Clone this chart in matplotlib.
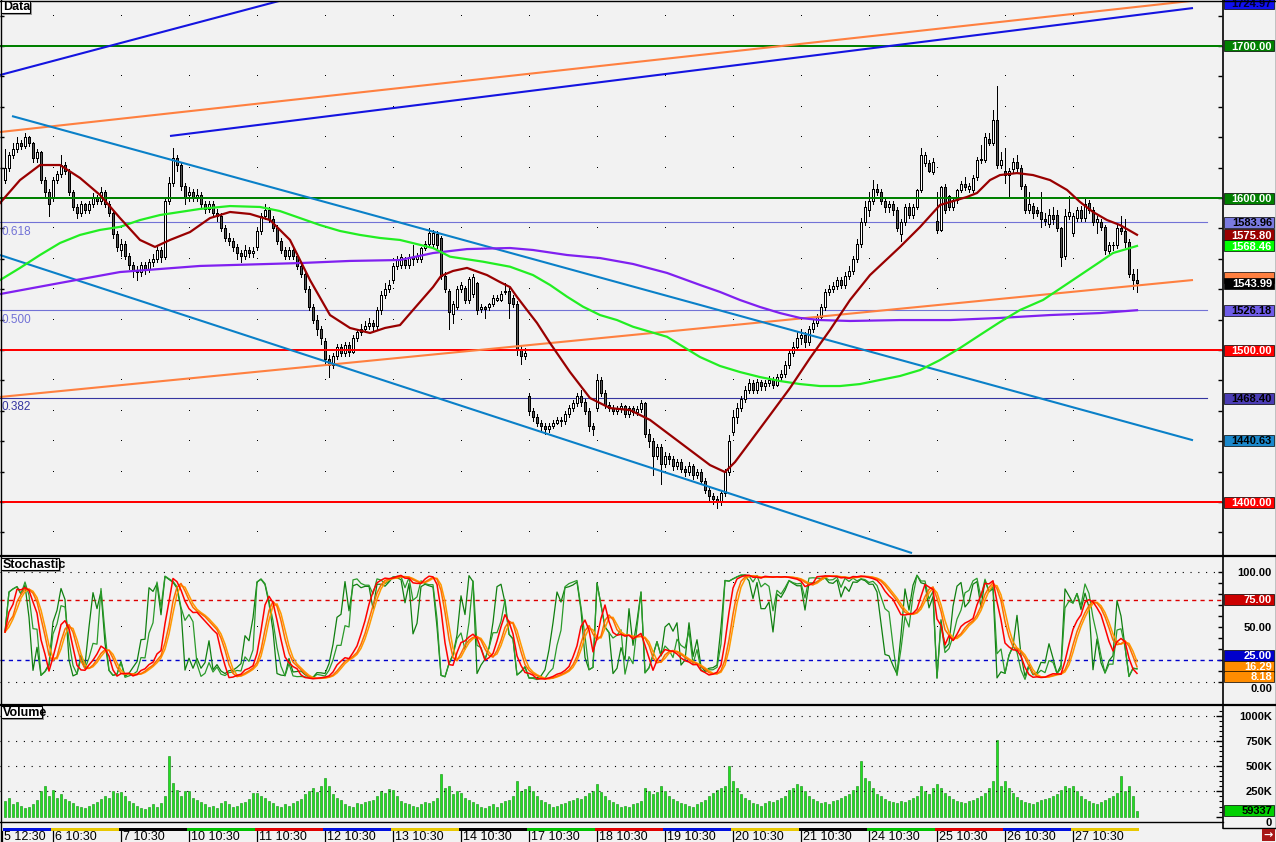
import numpy as np
import pandas as pd
import matplotlib
matplotlib.use("Agg")
import matplotlib.pyplot as plt
from matplotlib.patches import Rectangle
from matplotlib.lines import Line2D

plt.rcParams['font.family'] = ['Liberation Sans', 'DejaVu Sans']

W, H = 1276, 842
BG = '#f2f2f2'

# ---------------- data ----------------
day_labels = ['5 12:30', '6 10:30', '7 10:30', '10 10:30', '11 10:30', '12 10:30', '13 10:30',
              '14 10:30', '17 10:30', '18 10:30', '19 10:30', '20 10:30', '21 10:30',
              '24 10:30', '25 10:30', '26 10:30', '27 10:30']
day_first_bar = [0, 12, 29, 46, 63, 80, 97, 114, 131, 148, 165, 182, 199, 216, 233, 250, 267]

opens = [
    1612, 1620, 1628, 1632, 1636, 1634, 1640, 1636, 1626, 1630, 1612, 1604,
    1600, 1612, 1616, 1622, 1618, 1604, 1594, 1590, 1596, 1592, 1596, 1600, 1598, 1604, 1596, 1590, 1576,
    1566, 1570, 1562, 1556, 1552, 1551, 1556, 1553, 1558, 1560, 1566, 1561, 1598, 1610, 1626, 1622, 1608,
    1602, 1604, 1600, 1602, 1596, 1593, 1596, 1590, 1588, 1580, 1574, 1572, 1568, 1564, 1562, 1566, 1564,
    1568, 1578, 1588, 1592, 1586, 1580, 1572, 1566, 1562, 1566, 1562, 1555, 1550, 1540, 1528, 1520, 1514,
    1506, 1494, 1490, 1496, 1502, 1498, 1503, 1499, 1508, 1512, 1514, 1516, 1518, 1516, 1526, 1536, 1540,
    1546, 1555, 1556, 1559, 1556, 1561, 1560, 1560, 1567, 1570, 1570, 1576, 1574, 1549, 1539, 1524, 1528,
    1540, 1541, 1533, 1537, 1544, 1527, 1528, 1528, 1530, 1533, 1533, 1538, 1539, 1534, 1530, 1500, 1496,
    1470, 1460, 1456, 1452, 1450, 1448, 1450, 1452, 1454, 1453, 1458, 1462, 1465, 1470, 1466, 1460, 1450,
    1462, 1480, 1472, 1464, 1462, 1460, 1461, 1463, 1458, 1462, 1459, 1461, 1465, 1445, 1440, 1430, 1436,
    1425, 1430, 1428, 1424, 1426, 1422, 1420, 1424, 1418, 1420, 1414, 1408, 1404, 1402, 1400, 1406, 1420,
    1446, 1456, 1462, 1468, 1474, 1478, 1474, 1479, 1476, 1478, 1480, 1477, 1482, 1484, 1490, 1498, 1502,
    1508, 1510, 1505, 1514, 1518, 1522, 1528, 1538, 1540, 1542, 1546, 1543, 1549, 1552, 1560, 1570, 1584,
    1592, 1598, 1606, 1604, 1598, 1594, 1596, 1592, 1576, 1584, 1594, 1589, 1594, 1605, 1623, 1623, 1617,
    1585, 1579, 1607, 1601, 1594, 1599, 1605, 1609, 1606, 1605, 1614, 1625, 1625, 1639, 1636, 1651, 1622,
    1618, 1615, 1619, 1624, 1620, 1608, 1592, 1595, 1592, 1591, 1586, 1583, 1589, 1589, 1580, 1562, 1588,
    1577, 1587, 1592, 1587, 1597, 1592, 1584, 1584, 1581, 1565, 1569, 1569, 1580, 1578, 1571, 1550, 1546,
]
highs = [
    1632, 1630, 1636, 1640, 1638, 1643, 1641, 1637, 1632, 1631, 1614, 1606,
    1614, 1618, 1628, 1624, 1619, 1605, 1596, 1598, 1597, 1598, 1603, 1602, 1607, 1605, 1598, 1591, 1578,
    1573, 1572, 1564, 1558, 1555, 1558, 1558, 1560, 1563, 1568, 1568, 1600, 1614, 1633, 1628, 1624, 1610,
    1607, 1606, 1606, 1604, 1598, 1598, 1598, 1593, 1590, 1582, 1577, 1574, 1570, 1566, 1569, 1568, 1568,
    1580, 1590, 1596, 1594, 1588, 1582, 1574, 1568, 1568, 1568, 1564, 1557, 1552, 1542, 1530, 1523, 1516,
    1508, 1497, 1498, 1504, 1504, 1505, 1505, 1510, 1514, 1517, 1519, 1521, 1520, 1528, 1539, 1544, 1546,
    1557, 1562, 1563, 1561, 1563, 1569, 1564, 1568, 1572, 1580, 1579, 1578, 1575, 1551, 1540, 1532, 1542,
    1545, 1542, 1548, 1550, 1545, 1530, 1529, 1531, 1536, 1536, 1539, 1544, 1541, 1536, 1532, 1503, 1501,
    1472, 1462, 1458, 1454, 1452, 1452, 1454, 1456, 1456, 1460, 1464, 1467, 1472, 1474, 1468, 1462, 1452,
    1484, 1482, 1474, 1466, 1464, 1463, 1465, 1464, 1463, 1463, 1463, 1467, 1466, 1448, 1442, 1438, 1438,
    1433, 1432, 1430, 1428, 1428, 1424, 1426, 1425, 1422, 1422, 1416, 1410, 1406, 1404, 1408, 1422, 1444,
    1460, 1465, 1470, 1476, 1481, 1480, 1481, 1480, 1480, 1483, 1482, 1484, 1487, 1493, 1500, 1505, 1512,
    1514, 1512, 1516, 1520, 1524, 1530, 1540, 1543, 1545, 1548, 1548, 1551, 1555, 1562, 1573, 1587, 1598,
    1604, 1612, 1609, 1606, 1600, 1598, 1598, 1594, 1586, 1596, 1597, 1596, 1606, 1633, 1630, 1625, 1626,
    1604, 1608, 1609, 1602, 1600, 1606, 1611, 1614, 1610, 1615, 1627, 1635, 1643, 1643, 1658, 1674, 1630,
    1633, 1620, 1626, 1628, 1622, 1609, 1604, 1597, 1594, 1604, 1590, 1593, 1594, 1592, 1581, 1593, 1601,
    1590, 1594, 1595, 1600, 1599, 1594, 1588, 1586, 1582, 1571, 1571, 1582, 1588, 1586, 1573, 1553, 1553,
]
lows = [
    1610, 1618, 1626, 1630, 1632, 1633, 1634, 1624, 1624, 1610, 1600, 1588,
    1598, 1610, 1614, 1616, 1602, 1592, 1587, 1588, 1590, 1590, 1594, 1596, 1596, 1594, 1588, 1574, 1565,
    1562, 1560, 1553, 1548, 1546, 1549, 1550, 1551, 1555, 1558, 1558, 1560, 1596, 1608, 1618, 1605, 1596,
    1598, 1598, 1598, 1594, 1590, 1591, 1588, 1585, 1578, 1572, 1569, 1565, 1560, 1558, 1560, 1561, 1561,
    1566, 1576, 1586, 1584, 1578, 1570, 1564, 1560, 1560, 1560, 1553, 1548, 1538, 1526, 1518, 1510, 1504,
    1490, 1482, 1488, 1494, 1496, 1496, 1496, 1498, 1506, 1510, 1512, 1514, 1513, 1514, 1524, 1534, 1538,
    1544, 1553, 1554, 1554, 1554, 1556, 1558, 1558, 1566, 1568, 1568, 1567, 1547, 1538, 1514, 1518, 1527,
    1538, 1531, 1531, 1535, 1524, 1525, 1521, 1526, 1529, 1532, 1532, 1537, 1521, 1528, 1497, 1491, 1494,
    1457, 1453, 1450, 1447, 1445, 1446, 1449, 1451, 1450, 1451, 1456, 1460, 1463, 1463, 1458, 1447, 1444,
    1460, 1470, 1462, 1460, 1458, 1458, 1459, 1456, 1456, 1457, 1457, 1459, 1443, 1436, 1418, 1428, 1412,
    1423, 1425, 1421, 1422, 1420, 1417, 1418, 1415, 1416, 1412, 1406, 1401, 1399, 1396, 1398, 1404, 1418,
    1444, 1452, 1460, 1466, 1472, 1472, 1472, 1474, 1474, 1476, 1475, 1476, 1480, 1482, 1488, 1496, 1500,
    1504, 1502, 1503, 1512, 1516, 1520, 1526, 1536, 1538, 1540, 1541, 1541, 1547, 1550, 1558, 1568, 1582,
    1588, 1596, 1602, 1596, 1591, 1591, 1589, 1578, 1572, 1582, 1587, 1587, 1593, 1604, 1621, 1617, 1616,
    1577, 1578, 1590, 1592, 1592, 1597, 1604, 1605, 1604, 1604, 1612, 1623, 1624, 1635, 1635, 1620, 1620,
    1610, 1600, 1617, 1618, 1606, 1590, 1590, 1587, 1588, 1581, 1582, 1581, 1583, 1578, 1555, 1560, 1586,
    1575, 1585, 1585, 1585, 1590, 1582, 1577, 1579, 1563, 1563, 1566, 1567, 1576, 1568, 1548, 1540, 1538,
]
closes = [
    1620, 1628, 1632, 1636, 1634, 1640, 1636, 1626, 1630, 1612, 1604, 1596,
    1612, 1616, 1622, 1618, 1604, 1594, 1590, 1596, 1592, 1596, 1600, 1598, 1604, 1596, 1590, 1576, 1568,
    1570, 1562, 1556, 1552, 1551, 1556, 1553, 1558, 1560, 1566, 1561, 1598, 1610, 1626, 1622, 1608, 1600,
    1604, 1600, 1602, 1596, 1593, 1596, 1590, 1588, 1580, 1574, 1572, 1568, 1564, 1562, 1566, 1564, 1565,
    1578, 1588, 1592, 1586, 1580, 1572, 1566, 1562, 1566, 1562, 1555, 1550, 1540, 1528, 1520, 1514, 1508,
    1494, 1490, 1496, 1502, 1498, 1503, 1499, 1508, 1512, 1514, 1516, 1518, 1516, 1526, 1536, 1540, 1543,
    1555, 1560, 1561, 1556, 1561, 1560, 1562, 1567, 1570, 1577, 1577, 1569, 1549, 1540, 1525, 1530, 1540,
    1543, 1533, 1547, 1548, 1526, 1528, 1527, 1530, 1534, 1534, 1537, 1539, 1531, 1530, 1500, 1496, 1498,
    1460, 1456, 1452, 1450, 1448, 1450, 1452, 1454, 1453, 1458, 1462, 1465, 1470, 1466, 1460, 1450, 1448,
    1480, 1472, 1464, 1462, 1460, 1461, 1463, 1458, 1462, 1459, 1461, 1465, 1445, 1440, 1430, 1436, 1425,
    1430, 1428, 1424, 1426, 1422, 1420, 1424, 1418, 1420, 1414, 1408, 1404, 1402, 1400, 1406, 1420, 1440,
    1456, 1462, 1468, 1474, 1478, 1474, 1479, 1476, 1478, 1480, 1477, 1482, 1484, 1490, 1498, 1502, 1508,
    1510, 1505, 1514, 1518, 1522, 1528, 1538, 1540, 1542, 1546, 1543, 1549, 1552, 1560, 1570, 1584, 1594,
    1598, 1606, 1604, 1598, 1594, 1596, 1592, 1580, 1584, 1594, 1589, 1594, 1605, 1628, 1628, 1618, 1624,
    1579, 1607, 1592, 1594, 1599, 1605, 1609, 1607, 1608, 1613, 1625, 1625, 1640, 1636, 1651, 1622, 1625,
    1615, 1618, 1624, 1620, 1608, 1592, 1596, 1590, 1590, 1586, 1585, 1589, 1586, 1580, 1561, 1588, 1591,
    1588, 1592, 1587, 1596, 1592, 1584, 1586, 1581, 1566, 1569, 1569, 1580, 1578, 1571, 1550, 1546, 1543.99,
]
# volume in thousands
volumes_k = [
    150, 180, 120, 140, 110, 90, 100, 120, 160, 250, 300, 200,
    260, 180, 220, 170, 150, 130, 110, 100, 90, 110, 120, 140, 170, 200, 180, 250, 230,
    240, 200, 150, 130, 110, 90, 80, 100, 120, 100, 130, 200, 600, 330, 260, 200, 250,
    250, 180, 160, 140, 120, 100, 110, 90, 130, 150, 120, 100, 110, 130, 140, 170, 230,
    230, 200, 180, 150, 130, 110, 100, 120, 110, 130, 150, 170, 220, 250, 280, 240, 300,
    380, 300, 220, 180, 160, 120, 110, 100, 130, 120, 140, 150, 160, 200, 250, 230, 270,
    260, 200, 150, 130, 120, 110, 100, 120, 140, 130, 150, 180, 420, 280, 300, 220, 250,
    230, 180, 160, 140, 120, 100, 90, 110, 120, 100, 130, 150, 160, 200, 350, 250, 270,
    300, 250, 200, 160, 140, 120, 100, 110, 120, 130, 150, 160, 180, 170, 200, 230, 250,
    320, 240, 200, 160, 140, 120, 100, 110, 100, 120, 130, 150, 280, 250, 220, 240, 300,
    250, 200, 170, 150, 130, 120, 110, 100, 120, 140, 160, 200, 230, 260, 280, 300, 500,
    350, 280, 220, 180, 160, 130, 120, 110, 130, 150, 140, 160, 180, 200, 260, 280, 320,
    300, 250, 200, 170, 150, 130, 140, 120, 150, 160, 180, 200, 220, 260, 300, 550, 380,
    350, 280, 220, 200, 170, 150, 140, 130, 150, 140, 160, 180, 200, 300, 250, 220, 280,
    320, 280, 230, 200, 170, 150, 140, 130, 150, 160, 180, 200, 230, 280, 350, 760, 300,
    350, 280, 230, 190, 160, 140, 130, 120, 140, 160, 170, 180, 200, 220, 260, 300, 280,
    300, 250, 200, 170, 150, 130, 120, 140, 160, 180, 200, 230, 400, 250, 300, 200, 59.337,
]

# moving averages (bar position, price)
ma_red_bar = [-1.25, 3.75, 8.75, 13.75, 18.75, 23.75, 28.75, 33.75, 37.5, 41.25, 46.25, 51.25, 56.25,
              61.25, 66.25, 71.25, 76.25, 81.25, 86.25, 91.25, 95, 98.75, 102, 107, 109, 112, 115.5,
              120.5, 123.75, 126.25, 128, 130.5, 133, 136.25, 141.25, 146.25, 151.25, 156.25, 161.25,
              166.25, 171.25, 176.25, 180, 182.5, 186.25, 191.25, 196.25, 201.25, 206.25, 211.25,
              216.25, 223.75, 228.75, 233.75, 240.5, 243, 246.25, 248.75, 253, 257, 261.25, 265.5,
              268.75, 272, 275.5, 278.75, 283]
ma_red_val = [1596.7, 1611.8, 1621.7, 1621.7, 1613.2, 1602.0, 1586.8, 1572.4, 1567.8, 1572.4, 1577.6,
              1586.8, 1590.8, 1589.5, 1585.5, 1572.4, 1546.0, 1523.0, 1514.5, 1511.2, 1514.5, 1516.4,
              1526.3, 1541.4, 1548.7, 1552.0, 1554.0, 1549.3, 1544.7, 1541.4, 1534.9, 1526.3, 1517.8,
              1504.6, 1485.5, 1468.4, 1461.8, 1460.5, 1454.0, 1444.1, 1434.2, 1424.3, 1419.7, 1426.3,
              1439.5, 1457.2, 1475.0, 1494.7, 1513.2, 1532.9, 1549.3, 1567.8, 1580.9, 1595.4, 1600.7,
              1603.3, 1611.8, 1615.1, 1616.4, 1615.1, 1611.8, 1605.3, 1597.4, 1590.8, 1585.5, 1582.2,
              1575.8]
ma_green_bar = [-1.25, 3.75, 8.75, 13.75, 18.75, 23.75, 28.75, 33.75, 38.75, 43.75, 48.75, 56.25,
                63.75, 68.75, 73.75, 78.75, 83.75, 88.75, 93.75, 98.75, 107, 111.25, 119.5, 126.25,
                132, 136.25, 140.5, 144.5, 148.75, 153, 157, 161.25, 165.5, 169.5, 173.75, 178.75,
                183.75, 188.75, 193.75, 198.75, 203.75, 208.75, 213.75, 218.75, 223.75, 228.75,
                233.75, 238.75, 243.75, 248.75, 253.75, 259.5, 267, 273.75, 277, 283]
ma_green_val = [1546.0, 1554.0, 1562.5, 1570.4, 1575.7, 1579.0, 1581.0, 1585.5, 1588.8, 1590.8, 1592.8,
                1594.7, 1594.1, 1591.4, 1586.8, 1582.2, 1578.3, 1575.7, 1573.7, 1572.4, 1567.1, 1561.4,
                1558.1, 1554.8, 1549.3, 1542.8, 1535.1, 1528.5, 1523.0, 1519.7, 1515.3, 1512.0, 1508.7,
                1502.2, 1495.4, 1489.5, 1485.5, 1482.2, 1479.6, 1477.6, 1476.3, 1476.3, 1477.6, 1480.3,
                1482.9, 1486.8, 1493.4, 1501.3, 1509.9, 1518.4, 1526.3, 1532.9, 1546.1, 1558.0, 1563.8,
                1568.46]
ma_purple_bar = [-1.25, 13.75, 28.75, 48.75, 73.75, 86.25, 98.75, 107, 115.5, 126.25, 132, 140.5,
                 148.75, 157, 165.5, 173.75, 178.75, 183.75, 188.75, 193.75, 198.75, 203.75, 211.25,
                 223.75, 236.25, 248.75, 261.25, 273.75, 283]
ma_purple_val = [1536.8, 1544.1, 1551.3, 1555.3, 1557.2, 1558.6, 1559.2, 1563.8, 1566.4, 1567.1, 1565.8,
                 1562.5, 1560.5, 1556.6, 1550.7, 1542.8, 1538.2, 1532.9, 1528.3, 1524.3, 1521.1, 1519.7,
                 1519.1, 1519.7, 1519.7, 1521.1, 1523.0, 1524.3, 1526.18]

# drawn trend lines (start bar, start price, end bar, end price)
trend_start_bar = [-1.25, 41.25, -1.25, -1.25, 1.75, -1.25]
trend_start_price = [1680.9, 1640.8, 1643.4, 1469.1, 1653.9, 1562.5]
trend_end_bar = [69.5, 297, 298.75, 297, 297, 226.75]
trend_end_price = [1730.3, 1724.97, 1730.3, 1546.05, 1440.63, 1366.4]

level_green = [1700, 1600]
level_red = [1500, 1400]
fib_labels = ['0.618', '0.500', '0.382']
fib_prices = [1583.96, 1526.18, 1468.40]

stoch_upper, stoch_lower = 75, 20
stoch_tag_texts = ['25.00', '16.29', '8.18']
last_volume_text = '59337'

# ---------------- figure ----------------
fig = plt.figure(figsize=(W / 100, H / 100), dpi=100)
fig.patch.set_facecolor(BG)


def px_axes(top, bottom, left=0, right=1222):
    a = fig.add_axes([left / W, 1 - bottom / H, (right - left) / W, (bottom - top) / H])
    a.set_facecolor(BG)
    for s in a.spines.values():
        s.set_visible(False)
    a.set_xlim(-1.25, 304.25)
    a.set_xticks([])
    return a


ax = px_axes(1, 554)
ax.set_ylim(1365.8, 1729.6)
ax_st = px_axes(557, 703)
ax_st.set_ylim(-19.09, 113.64)
ax_v = px_axes(706, 821)
ax_v.set_ylim(-44.5, 1101.8)
ax_x = px_axes(822, 842)
ax_x.set_ylim(20, 0)
ax_x.set_yticks([])

n = len(closes)
idx = np.arange(n)
o = np.array(opens, float)
h = np.array(highs, float)
l = np.array(lows, float)
c = np.array(closes, float)

# ---- price panel ----
boundary_bars = day_first_bar[1:]
for p in np.arange(1380, 1730, 20):
    ax.plot(boundary_bars, [p] * len(boundary_bars), ls='none', marker=',', color='black', zorder=1)

for lab, p in zip(fib_labels, fib_prices):
    col = '#3535a0' if lab == '0.382' else '#7272d6'
    ax.plot([-1.25, 300.5], [p, p], color=col, lw=0.8, zorder=2)
    ax.text(-0.8, p - 2.2, lab, color=col, fontsize=8.5, ha='left', va='top', zorder=2)

ax.vlines(idx, l, h, color='black', lw=0.6, zorder=3, antialiased=False)
up = c >= o
body_lo = np.minimum(o, c)
body_h = np.maximum(np.abs(c - o), 0.4)
ax.bar(idx[up], body_h[up], bottom=body_lo[up], width=0.72, color='white', edgecolor='black',
       lw=0.5, zorder=4, antialiased=False)
ax.bar(idx[~up], body_h[~up], bottom=body_lo[~up], width=0.72, color='#555555', edgecolor='black',
       lw=0.5, zorder=4, antialiased=False)

for p in level_green:
    ax.axhline(p, color='#008000', lw=1.44, zorder=5, antialiased=False)
for p in level_red:
    ax.axhline(p, color='#ff0000', lw=1.44, zorder=5, antialiased=False)

trend_colors = ['#1414e0', '#1414e0', '#ff8040', '#ff8040', '#0a80c8', '#0a80c8']
for x0, p0, x1, p1, col in zip(trend_start_bar, trend_start_price, trend_end_bar, trend_end_price, trend_colors):
    ax.plot([x0, x1], [p0, p1], color=col, lw=1.5, zorder=5, solid_capstyle='butt')

ax.plot(ma_purple_bar, ma_purple_val, color='#8020f0', lw=1.6, zorder=6)
ax.plot(ma_green_bar, ma_green_val, color='#22ee22', lw=1.6, zorder=6)
ax.plot(ma_red_bar, ma_red_val, color='#990000', lw=1.6, zorder=6)

ax.set_yticks(np.arange(1380, 1730, 20))
ax.tick_params(axis='y', which='both', direction='in', right=True, left=True, labelleft=False,
               labelright=False, length=3, width=1, color='black')

# ---- stochastic panel ----
hi_s, lo_s, cl_s = pd.Series(h), pd.Series(l), pd.Series(c)


def pct_k(period):
    hh = hi_s.rolling(period, min_periods=1).max()
    ll = lo_s.rolling(period, min_periods=1).min()
    return 100 * (cl_s - ll) / (hh - ll)


k_fast = pct_k(5)
k_mid = pct_k(8)
d_red = pct_k(14).rolling(3, min_periods=1).mean()
d_orange = d_red.rolling(3, min_periods=1).mean()
d_orange2 = d_orange.rolling(2, min_periods=1).mean()

ax_st.axhline(100, color='black', lw=0.8, ls=(0, (1, 6)))
ax_st.axhline(0, color='black', lw=0.8, ls=(0, (1, 6)))
for v in (90, 50, 10):
    ax_st.plot(boundary_bars, [v] * len(boundary_bars), ls='none', marker=',', color='black')
ax_st.axhline(stoch_upper, color='#dd0000', lw=1.0, ls=(0, (3, 3)))
ax_st.axhline(stoch_lower, color='#0000cc', lw=1.0, ls=(0, (3, 3)))
ax_st.plot(idx, k_fast, color='#0f7f0f', lw=0.9)
ax_st.plot(idx, k_mid, color='#2a9a2a', lw=0.9)
ax_st.plot(idx, d_orange2, color='#ff9a00', lw=1.1)
ax_st.plot(idx, d_orange, color='#ff6a00', lw=1.1)
ax_st.plot(idx, d_red, color='#ff0000', lw=1.1)
ax_st.set_yticks(np.arange(0, 101, 10))
ax_st.tick_params(axis='y', direction='in', right=True, left=False, labelleft=False, labelright=False,
                  length=3, width=1, color='black')

# ---- volume panel ----
vol = np.array(volumes_k, float)
for v in (250, 500, 750, 1000):
    ax_v.axhline(v, color='black', lw=0.8, ls=(0, (1, 6)))
ax_v.bar(idx, vol, width=0.72, color='#20e020', edgecolor='#0c8a0c', lw=0.4)
ax_v.set_yticks(np.arange(0, 1001, 250))
ax_v.set_yticks(np.arange(0, 1051, 50), minor=True)
ax_v.tick_params(axis='y', which='major', direction='in', right=True, left=False, labelleft=False,
                 labelright=False, length=4, width=1, color='black')
ax_v.tick_params(axis='y', which='minor', direction='in', right=True, left=False, length=2, width=0.8)

# ---- time axis ----
strip_colors = ['#0010e0', '#e8c800', '#000000', '#00c000', '#e00000']
strip_start = [0, 1, 2, 3, 4, 0, 1, 2, 3, 4, 0, 1, 2, 3, 4, 0, 1]
bounds = day_first_bar + [n]
for k in range(len(day_first_bar)):
    col = strip_colors[strip_start[k]]
    ax_x.add_patch(Rectangle((bounds[k] - 0.5, 5.5), bounds[k + 1] - bounds[k], 3.2, color=col, lw=0))
for k, (lab, b) in enumerate(zip(day_labels, day_first_bar)):
    xb = b if k > 0 else -0.75
    ax_x.plot([xb, xb], [9, 20], color='black', lw=0.9)
    ax_x.text(xb + 0.45, 15.2, lab, fontsize=9, ha='left', va='center')

# ---------------- frame, separators, tags ----------------


def px_line(x0, y0, x1, y1, lw=1.0, color='black'):
    fig.add_artist(Line2D([x0 / W, x1 / W], [1 - y0 / H, 1 - y1 / H], transform=fig.transFigure,
                          color=color, lw=lw, zorder=20))


def px_rect(x, y, w, hh, z=10, **kw):
    fig.add_artist(Rectangle((x / W, 1 - (y + hh) / H), w / W, hh / H, transform=fig.transFigure,
                             zorder=z, **kw))


px_line(0, 555.5, W, 555.5, lw=1.6)
px_line(0, 704.5, W, 704.5, lw=1.6)
px_line(0, 821.5, 1223, 821.5, lw=1.0)
px_line(1223, 827.5, W, 827.5, lw=1.0)
px_line(1222.5, 0, 1222.5, 828, lw=1.2)
px_line(0.5, 0, 0.5, 842, lw=1.0)
px_line(0, 0.5, W, 0.5, lw=1.0)
px_line(W - 0.5, 0, W - 0.5, 828, lw=1.0)


def y_px(a, v):
    return H - a.transData.transform((0, v))[1]


def tag(yp, text, face=None, color='black', z=10):
    if face is not None:
        px_rect(1224, yp - 5.5, 50, 11, z=z, facecolor=face, edgecolor='black', lw=0.5)
    if text:
        fig.text(1272 / W, 1 - (yp + 0.8) / H, text, ha='right', va='center', fontsize=8,
                 fontweight='bold', color=color, zorder=z + 1)


tag(-4.5, '', '#ff8040')   # orange upper trend line tag, mostly above the window
tag(3, '1724.97', '#1010f0', '#000030')
tag(y_px(ax, 1700), '1700.00', '#008000', 'white')
tag(y_px(ax, 1600), '1600.00', '#008000', 'white')
tag(y_px(ax, fib_prices[0]), '1583.96', '#7a7ae0', 'black')
tag(y_px(ax, ma_red_val[-1]), '1575.80', '#990000', 'white')
tag(y_px(ax, ma_green_val[-1]), '1568.46', '#00ff00', 'white')
tag(277.5, '', '#ff8040')   # orange lower trend line tag, hidden behind the last-price tag
tag(y_px(ax, closes[-1]), '1543.99', '#000000', 'white', z=12)
tag(y_px(ax, fib_prices[1]), '1526.18', '#6e5ce8', 'black')
tag(y_px(ax, 1500), '1500.00', '#ff0000', 'white')
tag(y_px(ax, fib_prices[2]), '1468.40', '#4a3cb4', 'black')
tag(y_px(ax, trend_end_price[4]), '1440.63', '#1a88cc', 'black')
tag(y_px(ax, 1400), '1400.00', '#ff0000', 'white')

tag(y_px(ax_st, 100), '100.00', z=8)
tag(y_px(ax_st, 50), '50.00', z=8)
tag(688, '0.00', z=8)
tag(y_px(ax_st, 75), '75.00', '#cc0000', 'white')
tag(655.5, stoch_tag_texts[0], '#0000cc', 'white')
tag(666, stoch_tag_texts[1], '#ff8c00', 'white', z=12)
tag(676.5, stoch_tag_texts[2], '#ff8c00', 'white', z=14)

for v, s in zip((1000, 750, 500, 250), ('1000K', '750K', '500K', '250K')):
    tag(y_px(ax_v, v), s, z=8)
tag(822, '0', z=8)
tag(810, last_volume_text, '#00d000', 'black', z=12)

# panel captions


def caption(x, y, w, hh, text):
    px_rect(x + 2, y + 2, w, hh, z=21, facecolor='#9a9a9a', edgecolor='none')
    px_rect(x, y, w, hh, z=22, facecolor='white', edgecolor='black', lw=0.8)
    fig.text((x + 2) / W, 1 - (y + hh / 2 + 0.5) / H, text, ha='left', va='center', fontsize=9,
             fontweight='bold', zorder=23)


caption(1, 1, 29, 12, 'Data')
caption(1, 558, 58, 12, 'Stochastic')
caption(1, 706, 41, 12, 'Volume')

px_rect(1262, 829, 13, 12, z=21, facecolor='#a81818', edgecolor='none')
fig.text(1268.5 / W, 1 - 835.5 / H, '→', ha='center', va='center', fontsize=8, color='white',
         fontweight='bold', family='DejaVu Sans', zorder=22)

fig.savefig('out.png', dpi=100, facecolor=BG)
